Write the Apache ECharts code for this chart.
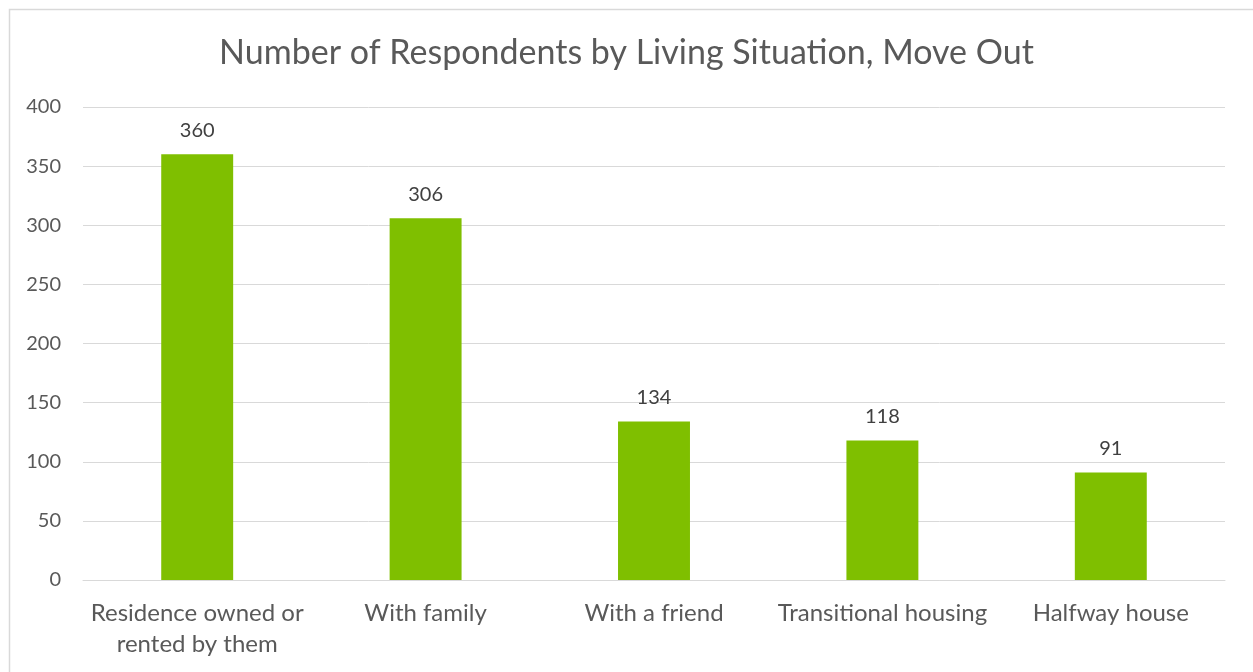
<!DOCTYPE html>
<html><head><meta charset="utf-8">
<script src="https://cdn.jsdelivr.net/npm/echarts@6/dist/echarts.min.js"></script>
<style>html,body{margin:0;padding:0;background:#fff}#c{width:1253px;height:672px}</style>
</head><body><div id="c"></div>
<script>
const titleText = 'Number of Respondents by Living Situation, Move Out';
const categories = ['Residence owned or\nrented by them', 'With family', 'With a friend', 'Transitional housing', 'Halfway house'];
const values = [360, 306, 134, 118, 91];
const yTicks = [0, 50, 100, 150, 200, 250, 300, 350, 400];

const FONT = 'Lato';
const chart = echarts.init(document.getElementById('c'), null, {renderer: 'canvas'});
chart.setOption({
  animation: false,
  backgroundColor: '#ffffff',
  textStyle: {fontFamily: FONT},
  title: {
    text: titleText, left: 'center', top: 31,
    textStyle: {fontFamily: FONT, fontSize: 34, fontWeight: 'normal', color: '#595959'}
  },
  graphic: [{
    type: 'rect', left: 7, top: 7, silent: true,
    shape: {width: 1300, height: 720},
    style: {fill: 'none', stroke: '#d9d9d9', lineWidth: 1.5}
  }],
  grid: {left: 83, right: 28, top: 107, bottom: 92, containLabel: false},
  xAxis: {
    type: 'category', data: categories,
    axisLine: {show: true, lineStyle: {color: '#d9d9d9', width: 1}},
    axisTick: {show: false},
    axisLabel: {fontFamily: FONT, fontSize: 24, color: '#595959', margin: 18, lineHeight: 31, interval: 0}
  },
  yAxis: {
    type: 'value', min: yTicks[0], max: yTicks[yTicks.length - 1], interval: 50,
    axisLine: {show: false}, axisTick: {show: false},
    splitLine: {lineStyle: {color: '#d9d9d9', width: 1}},
    axisLabel: {fontFamily: FONT, fontSize: 20, color: '#595959', margin: 22}
  },
  series: [{
    type: 'bar', data: values, barWidth: '31.5%',
    itemStyle: {color: '#7FBF00'},
    label: {show: true, position: 'top', distance: 14, fontFamily: FONT, fontSize: 20, color: '#404040'}
  }]
});
</script></body></html>
